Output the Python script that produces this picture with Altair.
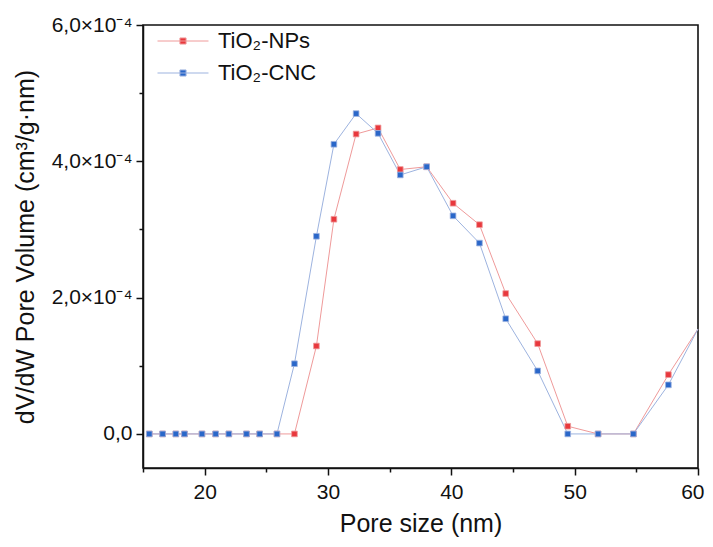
import altair as alt
import pandas as pd

# Pore size (nm) values
pore_size = [15.51, 16.59, 17.66, 18.36, 19.78, 20.89, 21.96, 23.39, 24.46, 25.86,
             27.28, 29.06, 30.48, 32.28, 34.06, 35.86, 38.0, 40.14, 42.28, 44.41,
             47.0, 49.44, 51.9, 54.76, 57.6, 60.0]
# dV/dW pore volume in units of 1e-4 cm3/g.nm
nps_vals = [0, 0, 0, 0, 0, 0, 0, 0, 0, 0,
            0, 1.29, 3.15, 4.40, 4.49, 3.88, 3.92, 3.385, 3.07, 2.06,
            1.325, 0.113, 0, 0, 0.87, 1.54]
cnc_vals = [0, 0, 0, 0, 0, 0, 0, 0, 0, 0,
            1.03, 2.90, 4.25, 4.70, 4.41, 3.80, 3.92, 3.20, 2.80, 1.69,
            0.925, 0, 0, 0, 0.72, 1.54]

series_names = ["TiO₂-NPs", "TiO₂-CNC"]
fill_colors = ["#e8383d", "#2a67c9"]
line_colors = ["#ef9a9a", "#9db3df"]

x_tick_values = [15, 20, 25, 30, 35, 40, 45, 50, 55, 60]
y_tick_values = [0, 0.0001, 0.0002, 0.0003, 0.0004, 0.0005, 0.0006]

rows = []
for name, vals in zip(series_names, [nps_vals, cnc_vals]):
    for i, (x, v) in enumerate(zip(pore_size, vals)):
        rows.append({"x": x, "y": v * 1e-4, "series": name, "order": i,
                     "marker": x < 59.9})
df = pd.DataFrame(rows)

FONT = "Liberation Sans"

legend_path = "M-2.5,0L2.5,0M-0.3,-0.3L0.3,-0.3L0.3,0.3L-0.3,0.3Z"
leg = alt.Legend(title=None, orient="none", legendX=29, legendY=5,
                 symbolType=legend_path, symbolSize=416, symbolStrokeWidth=1,
                 labelFontSize=22, labelFont=FONT, labelColor="#111",
                 labelOffset=24, rowPadding=10, padding=0)

x_axis = alt.Axis(
    values=x_tick_values,
    labelExpr="datum.value % 10 == 0 ? datum.label : ''",
    tickSize={"condition": {"test": "datum.value % 10 == 0", "value": 7}, "value": 4},
    title="Pore size (nm)", titleFontSize=25, titleFont=FONT, titleFontWeight="normal",
    titleColor="#111", titleBaseline="alphabetic", titleY=63,
    labelFontSize=21, labelFont=FONT, labelColor="#111", labelPadding=6,
    grid=False, domainColor="#111", domainWidth=1.5, tickColor="#111", tickWidth=1.5,
    labelFlush=True, labelFlushOffset=6, labelOverlap=False,
)
y_axis = alt.Axis(
    values=y_tick_values,
    labelExpr="round(datum.value*10000) % 2 == 0 ? (datum.value == 0 ? '0,0' : replace(format(datum.value*10000, '.1f'), '.', ',') + '×10⁻⁴') : ''",
    tickSize={"condition": {"test": "round(datum.value*10000) % 2 == 0", "value": 7}, "value": 4},
    title="dV/dW Pore Volume (cm³/g·nm)", titleFontSize=25, titleFont=FONT,
    titleFontWeight="normal", titleColor="#111", titleBaseline="alphabetic", titleX=-110,
    labelFontSize=21, labelFont=FONT, labelColor="#111", labelPadding=4,
    grid=False, domainColor="#111", domainWidth=1.5, tickColor="#111", tickWidth=1.5,
    labelFlush=False, labelOverlap=False,
)

xs = alt.Scale(domain=[15, 60], nice=False, zero=False)
ys = alt.Scale(domain=[-0.00005, 0.0006], nice=False, zero=False)

stroke_enc = alt.Stroke("series:N", scale=alt.Scale(domain=series_names, range=line_colors), legend=leg)
fill_enc = alt.Fill("series:N", scale=alt.Scale(domain=series_names, range=fill_colors), legend=leg)

base = alt.Chart(df)

lines = base.mark_line(strokeWidth=1).encode(
    x=alt.X("x:Q", scale=xs, axis=x_axis),
    y=alt.Y("y:Q", scale=ys, axis=y_axis),
    stroke=stroke_enc,
    detail="series:N",
    order="order:Q",
)

points = base.transform_filter("datum.marker").mark_point(
    shape="square", filled=True, size=32, strokeWidth=0.8, opacity=1
).encode(
    x=alt.X("x:Q", scale=xs, axis=x_axis),
    y=alt.Y("y:Q", scale=ys, axis=y_axis),
    fill=fill_enc,
    stroke=stroke_enc,
)

chart = alt.layer(lines, points).properties(
    width=555, height=443,
    padding={"left": 135, "top": 17, "right": 7, "bottom": 69},
    autosize=alt.AutoSizeParams(type="none"),
    background="white",
).configure_view(stroke="#111", strokeWidth=1.6)

chart.save("out.html", embed_options={"renderer": "svg", "actions": False})
